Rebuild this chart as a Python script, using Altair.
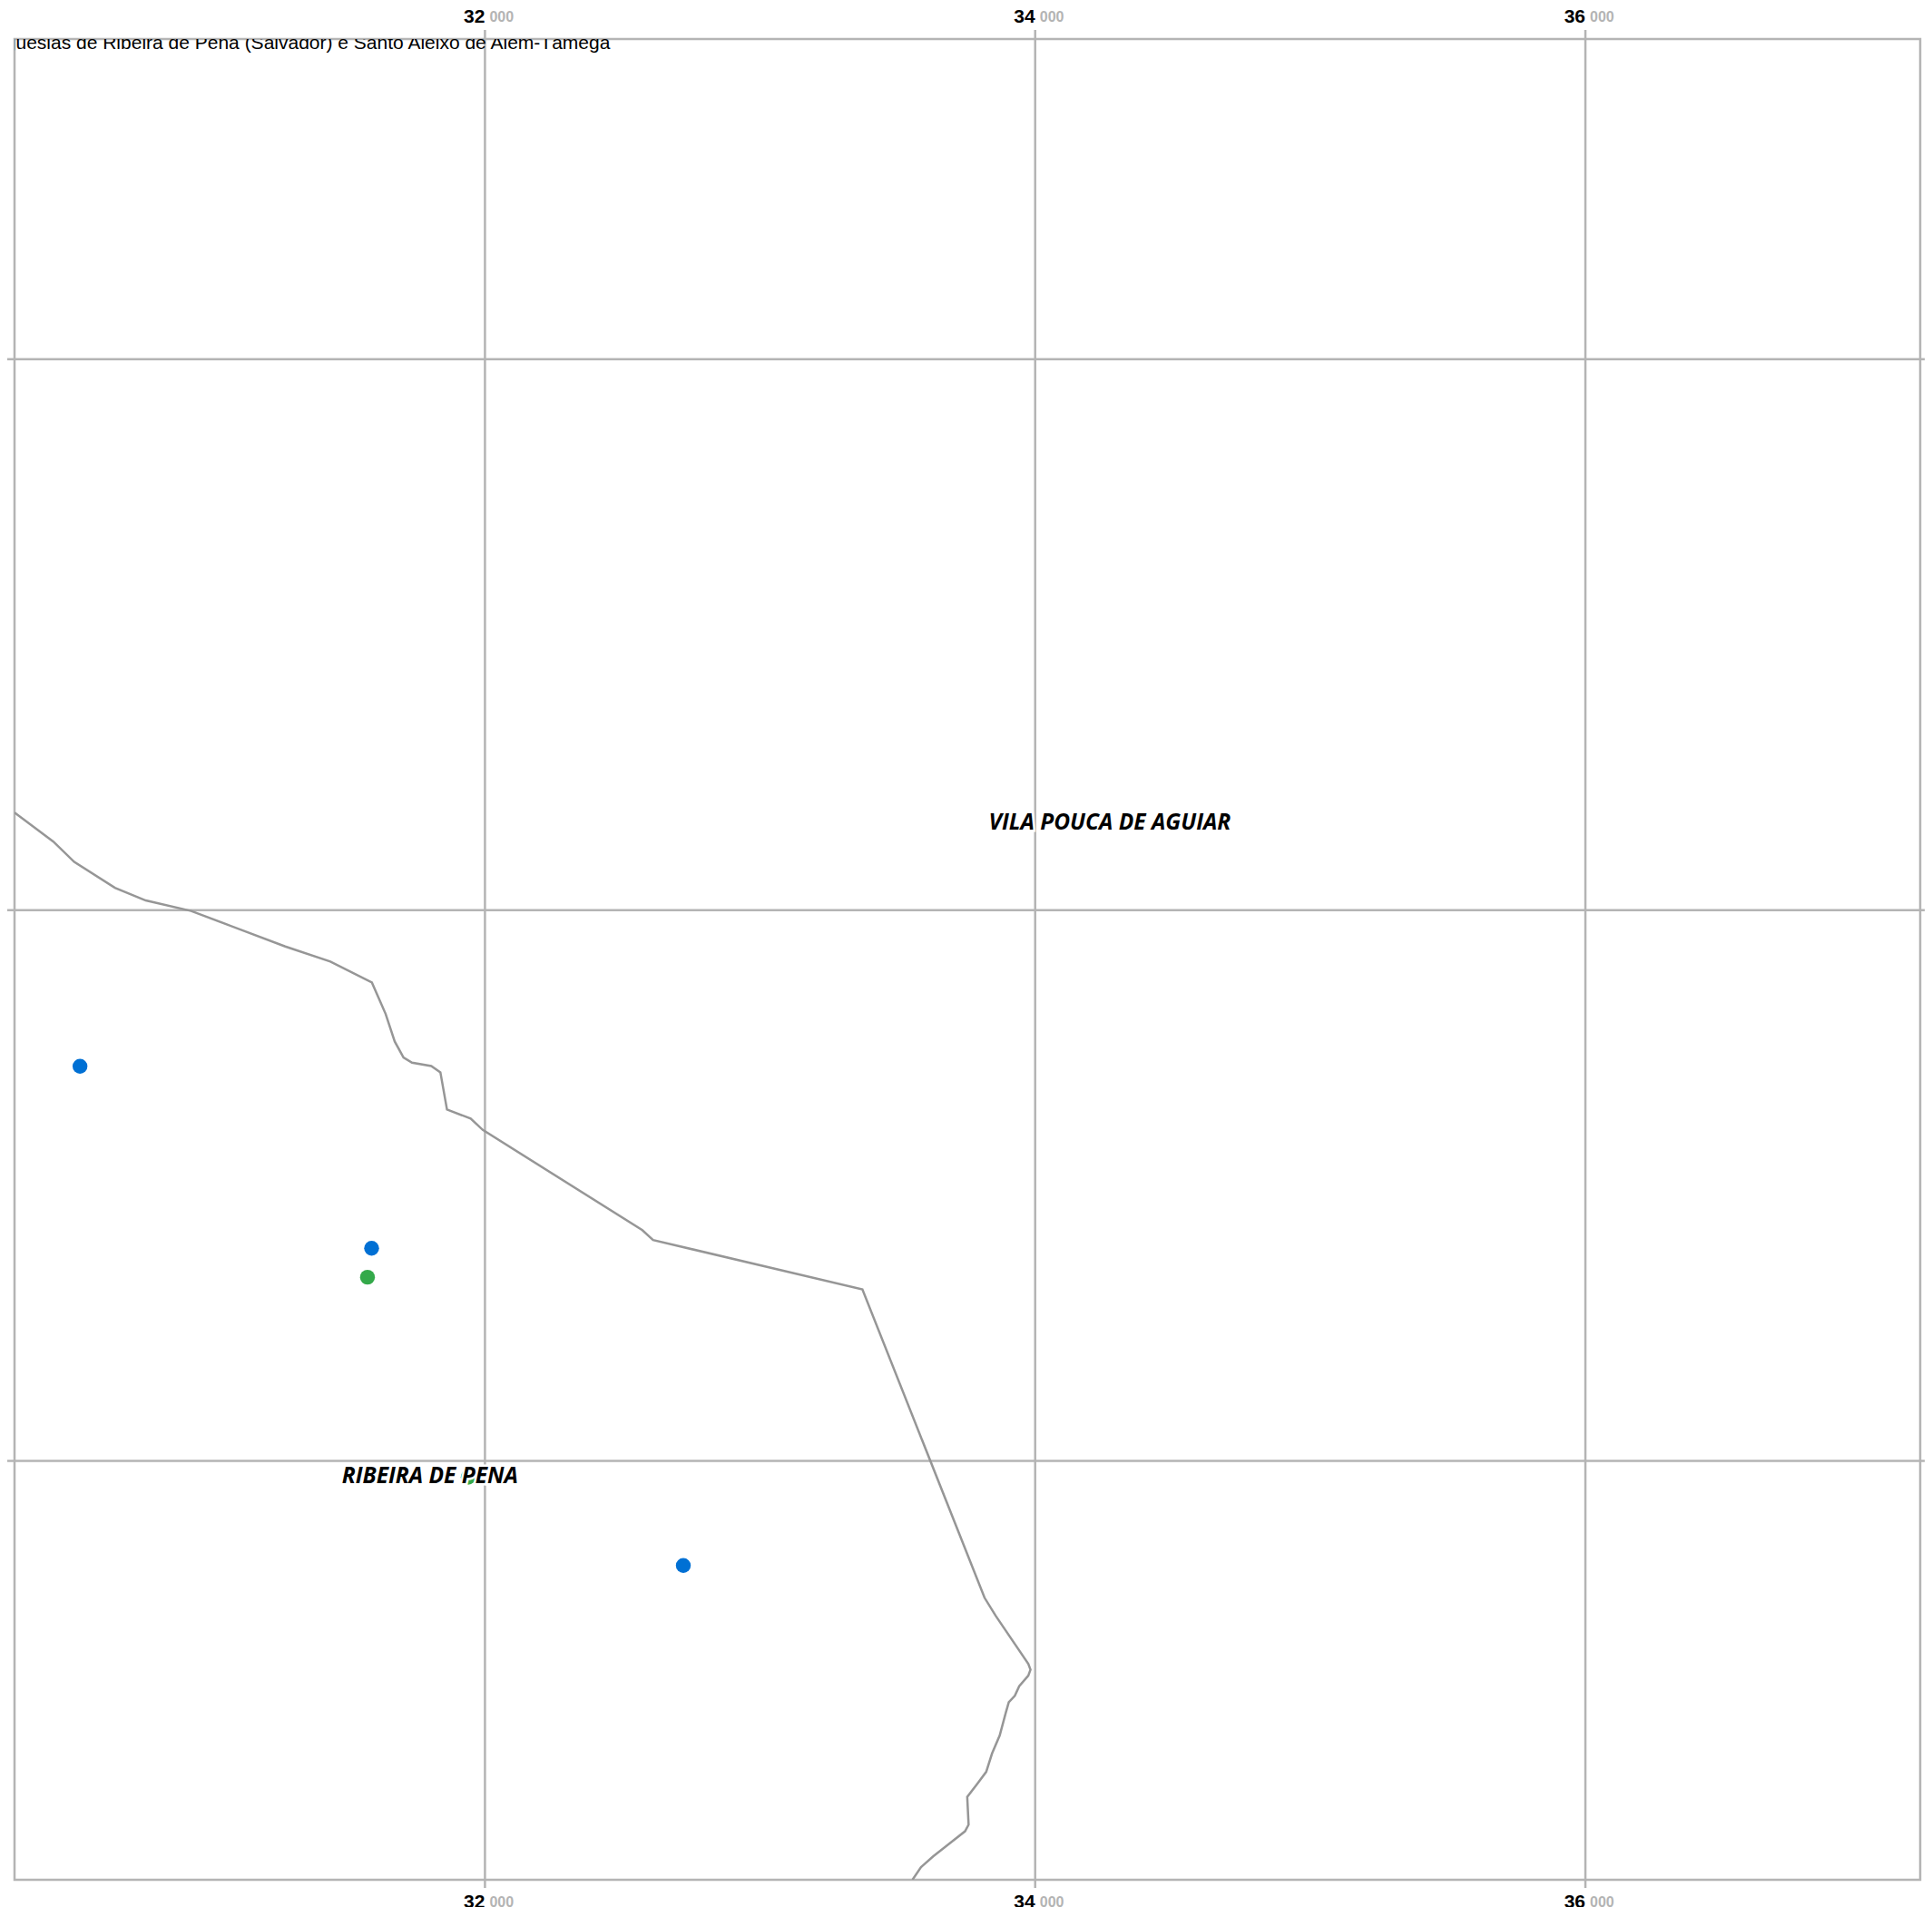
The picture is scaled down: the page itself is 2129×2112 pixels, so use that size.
import altair as alt
import pandas as pd

TITLE = "Freguesias de Ribeira de Pena (Salvador) e Santo Aleixo de Além-Tâmega"

X_TICKS = [32000, 34000, 36000]
X_MAJOR = ["32", "34", "36"]
X_MINOR = ["000", "000", "000"]
Y_GRID = [202000, 200000, 198000]

BORDER_X = [30290, 30431, 30507, 30655, 30767, 30932, 31274, 31438, 31589, 31639,
            31672, 31704, 31735, 31805, 31838, 31862, 31948, 31992, 32572, 32611,
            33372, 33816, 33857, 33975, 33983, 33975, 33942, 33926, 33904, 33893,
            33871, 33843, 33822, 33789, 33753, 33758, 33745, 33629, 33585, 33554]
BORDER_Y = [200354, 200249, 200175, 200081, 200035, 199997, 199868, 199813, 199737, 199623,
            199523, 199465, 199446, 199434, 199411, 199276, 199243, 199202, 198838, 198802,
            198623, 197503, 197437, 197263, 197242, 197220, 197182, 197147, 197124, 197085,
            197003, 196937, 196871, 196827, 196780, 196679, 196655, 196564, 196525, 196479]

BLUE_X = [30528, 31588, 32721]
BLUE_Y = [199433, 198772, 197620]
GREEN_X = [31573, 31939]
GREEN_Y = [198667, 197941]

LABELS = ["VILA POUCA DE AGUIAR", "RIBEIRA DE PENA"]
LABEL_X = [34271, 31800]
LABEL_Y = [200314, 197944]

W, H = 2100, 2028
GRID = "#b4b4b4"

xs = alt.Scale(domain=[30290, 37217], nice=False, zero=False)
ys = alt.Scale(domain=[196479, 203163], nice=False, zero=False)
X = lambda f: alt.X(f, type="quantitative", scale=xs, axis=None)
Y = lambda f: alt.Y(f, type="quantitative", scale=ys, axis=None)

ticks = pd.DataFrame({"x": X_TICKS, "major": X_MAJOR, "minor": X_MINOR})
ygrid = pd.DataFrame({"y": Y_GRID})
border = pd.DataFrame({"x": BORDER_X, "y": BORDER_Y, "i": range(len(BORDER_X))})
blue = pd.DataFrame({"x": BLUE_X, "y": BLUE_Y})
green = pd.DataFrame({"x": GREEN_X, "y": GREEN_Y})
labels = pd.DataFrame({"t": LABELS, "x": LABEL_X, "y": LABEL_Y})

vrules = alt.Chart(ticks).mark_rule(color=GRID, strokeWidth=2.5).encode(
    x=X("x"), y=alt.value(-10), y2=alt.value(H + 9))
hrules = alt.Chart(ygrid).mark_rule(color=GRID, strokeWidth=2.5).encode(
    y=Y("y"), x=alt.value(-11), x2=alt.value(W + 12))

line = alt.Chart(border).mark_line(color="#969696", strokeWidth=2.5, clip=True).encode(
    x=X("x"), y=Y("y"), order=alt.Order("i:Q"))

dots_b = alt.Chart(blue).mark_point(filled=True, opacity=1, size=270, color="#0070d4").encode(
    x=X("x"), y=Y("y"))
dots_g = alt.Chart(green).mark_point(filled=True, opacity=1, size=270, color="#34a94a").encode(
    x=X("x"), y=Y("y"))


def tick_text(ypos):
    major = alt.Chart(ticks).mark_text(
        font="Liberation Sans", fontWeight="bold", fontSize=21, color="#000000",
        align="right", baseline="middle").encode(
        x=X("x"), y=alt.value(ypos), text="major:N")
    minor = alt.Chart(ticks).mark_text(
        font="Liberation Sans", fontWeight="bold", fontSize=16, color="#b4b4b4",
        align="left", baseline="middle", dx=5).encode(
        x=X("x"), y=alt.value(ypos), text="minor:N")
    return major + minor


def name_text(**kw):
    return alt.Chart(labels).mark_text(
        font="Open Sans", fontWeight="bold", fontStyle="italic", fontSize=24.5,
        align="center", baseline="middle", **kw).encode(
        x=X("x"), y=Y("y"), text="t:N")


title = alt.Chart(pd.DataFrame({"t": [TITLE], "x": [32455]})).mark_text(
    font="Liberation Sans", fontSize=21, color="#000000", align="right",
    baseline="alphabetic", clip=True).encode(
    x=X("x"), y=alt.value(10.5), text="t:N")

chart = alt.layer(
    vrules, hrules, line, dots_b, dots_g,
    name_text(color="#ffffff", stroke="#ffffff", strokeWidth=5),
    name_text(color="#000000"),
    title, tick_text(-24.4), tick_text(H + 25),
).properties(
    width=W, height=H,
    padding={"left": 8, "top": 35, "right": 5, "bottom": 30},
    autosize=alt.AutoSizeParams(type="none"),
).configure_view(stroke=GRID, strokeWidth=2.5)

chart.save("out.html", embed_options={"renderer": "svg", "actions": False})
